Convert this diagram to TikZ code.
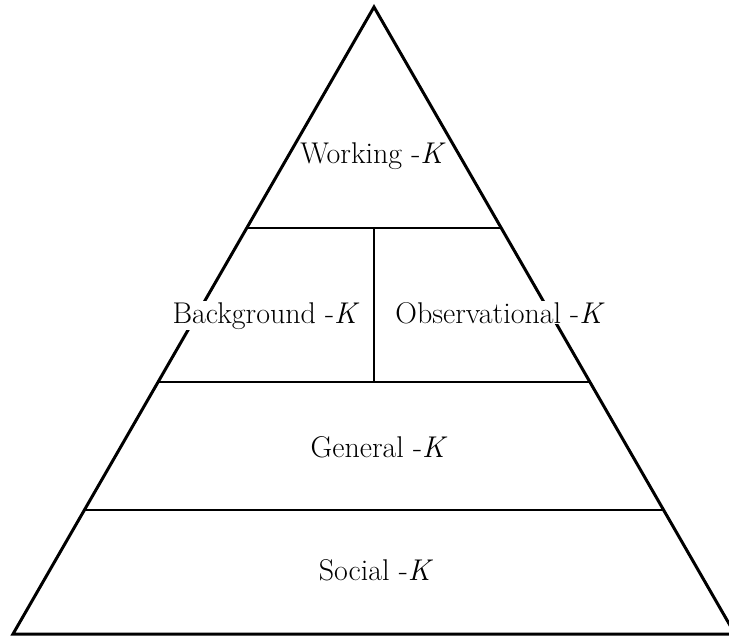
\documentclass[tikz,border=0pt]{standalone}
\usepackage{amsmath}
\usepackage{tikz}
\usetikzlibrary{positioning}
\tikzset{edge/.style = {line width = 3pt, line join = miter}}
\tikzset{split/.style = {line width = 1.6pt}}
\tikzset{layer/.style = {fill = white, inner sep = 1pt, anchor = base,
                         font = \fontsize{30}{34}\selectfont}}

\begin{document}
\begin{tikzpicture}[x = 1pt, y = -1pt]
      \useasboundingbox (0, 0) rectangle (729, 640);
      \draw [edge] (13, 634) -- (374, 7) -- (735, 634) -- cycle;

      \draw [split] (247, 228) -- (501, 228);
      \draw [split] (158, 382) -- (590, 382);
      \draw [split] (84, 510) -- (664, 510);
      \draw [split] (374, 228) -- (374, 382);

      \node [layer] (work) at (373, 163) {Working -\textit{K}};
      \node [layer] (back) at (266, 323) {Background -\textit{K}};
      \node [layer] (obs) at (500, 323) {Observational -\textit{K}};
      \node [layer] (gen) at (379, 457) {General -\textit{K}};
      \node [layer] (soc) at (376, 580) {Social -\textit{K}};
    \end{tikzpicture}
\end{document}
